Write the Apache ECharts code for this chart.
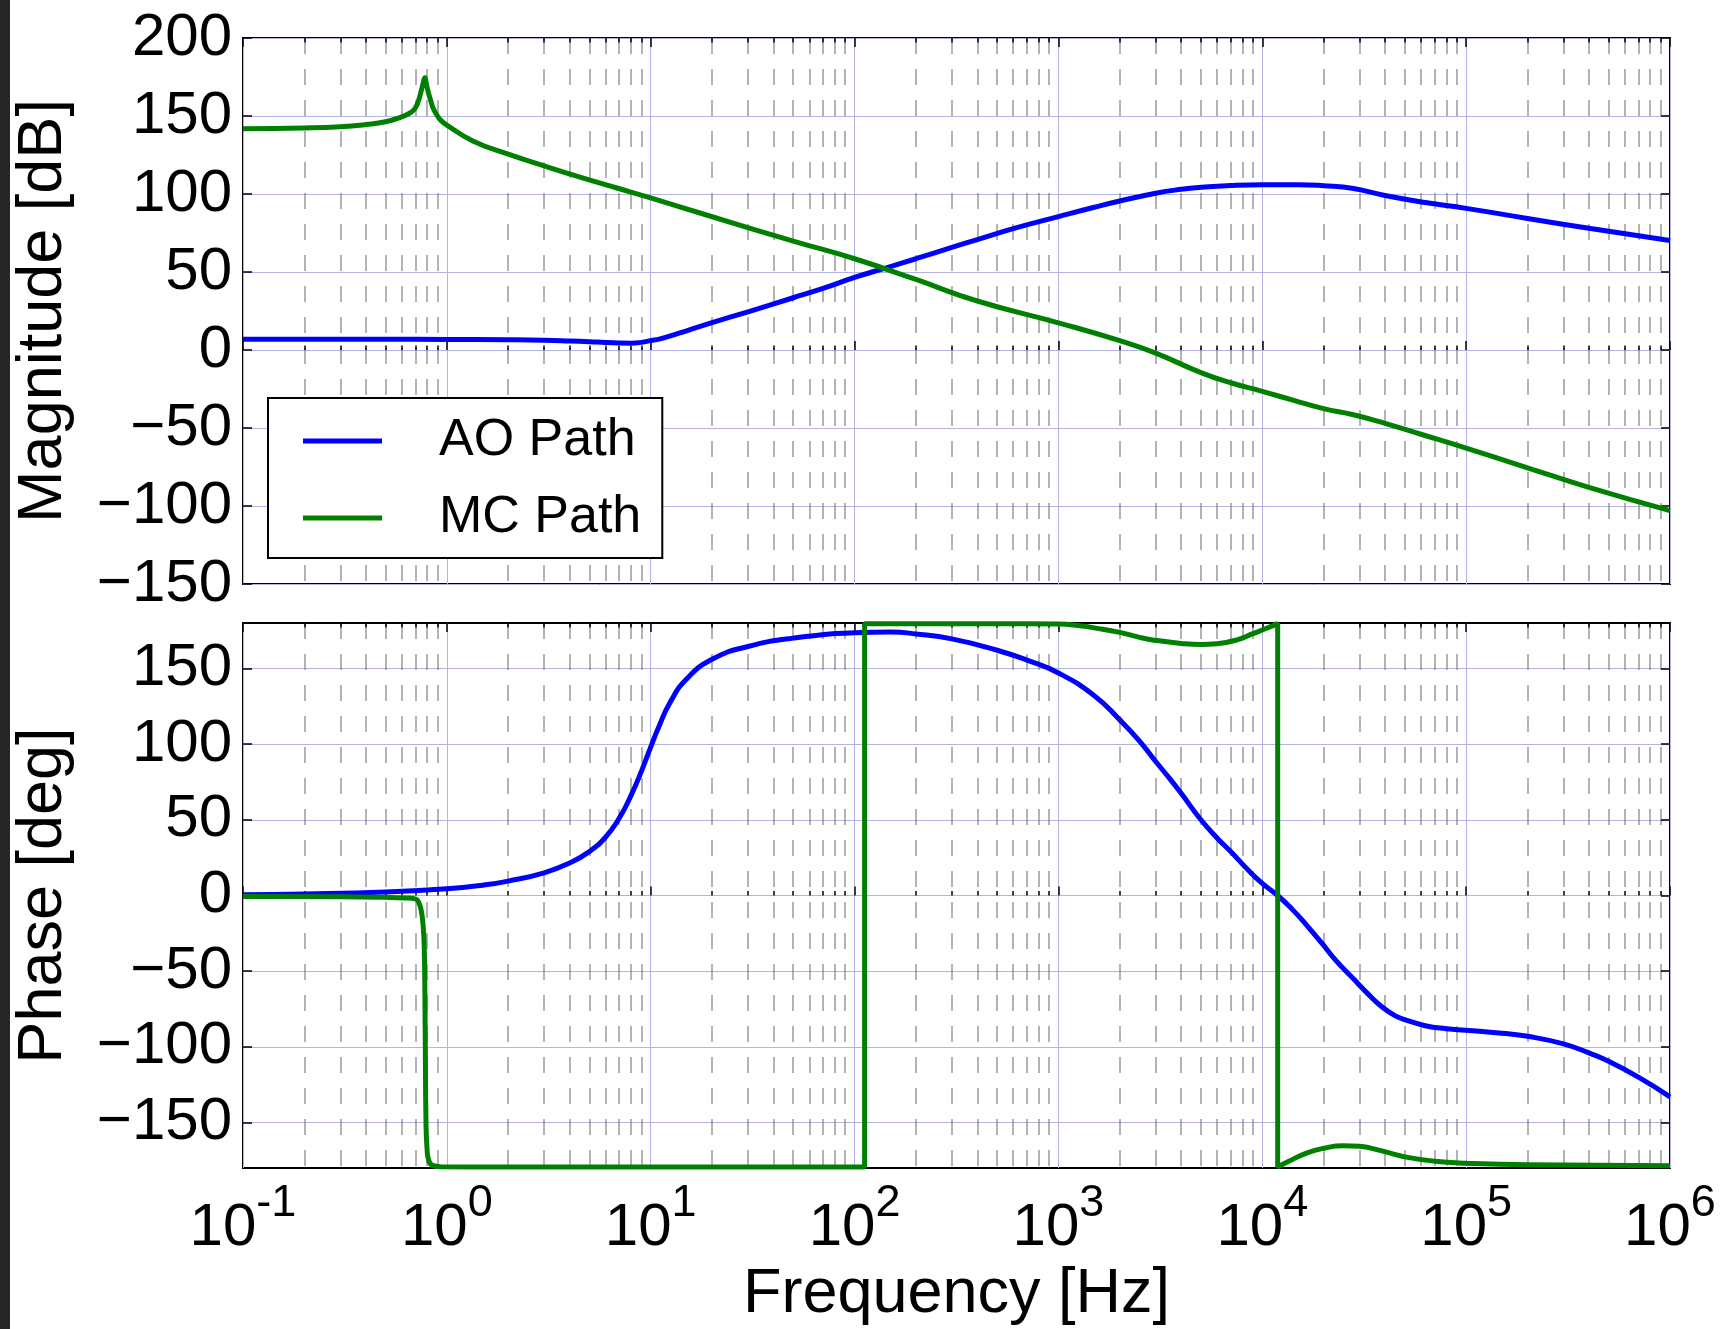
<!DOCTYPE html>
<html>
<head>
<meta charset="utf-8">
<script src="https://cdn.jsdelivr.net/npm/echarts@6/dist/echarts.min.js"></script>
<style>
  html, body { margin: 0; padding: 0; background: #fff; }
  #bode { width: 1729px; height: 1329px; }
</style>
</head>
<body>
<div id="bode"></div>
<script>
  // ---- data: [frequency Hz, value] ----
  var aoMagnitude = [
    [0.1, 6.9], [0.2, 6.9], [0.5, 6.9], [1, 6.8], [2, 6.6], [3, 6.3], [4, 5.8], [5, 5.3],
    [6, 4.8], [7, 4.5], [8, 4.4], [9, 4.9], [10, 6], [11, 7], [12.5, 9], [15, 12.3],
    [20, 17.5], [30, 24.5], [50, 33.5], [70, 39.5], [100, 46.5], [150, 53.5], [200, 58.5],
    [300, 65.8], [400, 70.8], [600, 77.8], [1000, 85.5], [1500, 91.5], [2000, 95.5],
    [3000, 100.5], [4000, 103], [5000, 104.3], [7000, 105.5], [10000, 106], [15000, 106],
    [20000, 105.3], [28000, 103.5], [40000, 99], [63000, 94.5], [100000, 90.8],
    [200000, 84.3], [400000, 78], [1000000, 70.2]
  ];
  var mcMagnitude = [
    [0.1, 141.8], [0.2, 142.3], [0.3, 143.1], [0.4, 144.5], [0.5, 146.3], [0.6, 149.4],
    [0.65, 151.5], [0.69, 154], [0.72, 158.5], [0.75, 166.5], [0.765, 171], [0.78, 174.5],
    [0.795, 170], [0.81, 165.5], [0.835, 159.5], [0.86, 154.5], [0.9, 150], [0.935, 147.2],
    [1, 144.2], [1.34, 134], [2, 125.5], [3, 118], [4.5, 110.8], [6.76, 104], [10, 97.5],
    [18.6, 86.7], [50, 69.8], [100, 58.5], [200, 45.2], [400, 31.4], [1000, 17.4],
    [2000, 6], [3000, -2], [5000, -14.5], [7000, -21], [10000, -26.5], [14000, -32],
    [20000, -37.6], [28000, -41.5], [40000, -47], [60000, -54], [100000, -62.9],
    [200000, -75.5], [400000, -88.1], [1000000, -103]
  ];
  var aoPhase = [
    [0.1, 0.5], [0.2, 1], [0.5, 2.3], [1, 4.4], [1.5, 6.8], [2, 9.5], [3, 15], [4, 21.5],
    [5, 29], [6, 38.5], [7, 51], [8, 66], [9, 82], [10, 98], [11, 112], [12.5, 128],
    [15, 143], [20, 156], [30, 164.5], [50, 170], [100, 173.5], [150, 174], [200, 172.8],
    [300, 169.5], [500, 162], [700, 155.5], [1000, 147], [1500, 132], [2000, 116],
    [2500, 102], [3000, 88.5], [3500, 77.5], [4000, 67.5], [5000, 50], [6000, 38], [7000, 29],
    [8500, 17], [10000, 8], [11900, 0], [14000, -9], [16600, -20], [19600, -31.5],
    [23000, -43], [28000, -55], [33000, -65], [39000, -74], [45000, -79.5], [50000, -82],
    [63000, -86], [80000, -88], [100000, -89], [150000, -91], [200000, -93], [300000, -98],
    [400000, -104], [500000, -109.5], [700000, -120], [1000000, -133]
  ];
  var mcPhase = [
    [0.1, -0.6], [0.3, -0.8], [0.5, -1.2], [0.62, -1.6], [0.7, -2.2], [0.73, -5],
    [0.75, -10.5], [0.765, -20], [0.775, -35], [0.783, -90], [0.79, -150], [0.8, -168],
    [0.815, -175], [0.85, -178.3], [0.93, -179.2], [2, -179.4], [112, -179.4],
    [112, 179.5], [500, 179.5], [1000, 179.3], [1300, 178], [1500, 176.8], [2000, 173.8],
    [2500, 170.5], [3000, 168.5], [4000, 166.5], [5000, 165.8], [6000, 166.3],
    [7500, 168.8], [9000, 173], [10500, 176.5], [11900, 179.6], [11900, -179.4],
    [13500, -175.5], [16600, -170], [20000, -167], [24900, -165.3], [30000, -165.6],
    [34400, -167], [42000, -170], [51600, -173], [70000, -175.5], [100000, -176.8],
    [200000, -177.9], [1000000, -178.5]
  ];

  // ---- axes ----
  var decadeTicks = [0.1, 1, 10, 100, 1000, 10000, 100000, 1000000];
  var minorTicks = [];
  decadeTicks.slice(0, -1).forEach(function (d) {
    for (var m = 2; m <= 9; m++) minorTicks.push(+(d * m).toPrecision(3));
  });
  var magTicks = [-150, -100, -50, 0, 50, 100, 150, 200];
  var phaseTicks = [-150, -100, -50, 0, 50, 100, 150];

  var FONT = '"Liberation Sans", Arial, Helvetica, sans-serif';
  var BLUE = '#0000ff';
  var GREEN = '#008000';
  var GRID_COLOR = '#b4b4e4';

  var minusFmt = function (v) { return v < 0 ? '\u2212' + (-v) : String(v); };
  var powFmt = function (v) {
    var e = Math.round(Math.log10(v));
    return '{b|10}{s|' + e + '}';
  };

  var tickStyle = { color: '#000', width: 1.5 };

  // one log frequency axis (several are stacked per grid for ticks / grid lines)
  const freqAxis = (gi, pos, ticks, len, extra) => {
    var ax = {
      type: 'log', logBase: 10, gridIndex: gi, position: pos,
      min: 0.1, max: 1000000,
      axisLine: { show: false },
      axisTick: { show: true, inside: true, length: len, customValues: ticks, lineStyle: tickStyle },
      axisLabel: { show: false },
      splitLine: { show: false }
    };
    return Object.assign(ax, extra || {});
  };

  var majorSplit = { show: true, lineStyle: { color: GRID_COLOR, width: 1 } };
  var minorSplit = { show: true, lineStyle: { color: 'rgba(110,110,110,0.7)', width: 1.5, type: [16, 15] } };

  var xAxes = [];
  [0, 1].forEach(function (gi) {
    var main = freqAxis(gi, 'bottom', decadeTicks, 9, { splitLine: majorSplit });
    if (gi == 1) {
      main.axisLabel = {
        show: true, customValues: decadeTicks, formatter: powFmt, margin: 30,
        rich: {
          b: { fontSize: 60, fontFamily: FONT, color: '#000', lineHeight: 60, verticalAlign: 'bottom' },
          s: { fontSize: 45, fontFamily: FONT, color: '#000', lineHeight: 45, padding: [0, 0, 32, 0], verticalAlign: 'bottom' }
        }
      };
      main.name = 'Frequency [Hz]';
      main.nameLocation = 'middle';
      main.nameGap = 95;
      main.nameTextStyle = { fontSize: 63, fontFamily: FONT, color: '#000' };
    }
    xAxes.push(main);
    xAxes.push(freqAxis(gi, 'bottom', minorTicks, 4.5, { splitLine: minorSplit }));
    xAxes.push(freqAxis(gi, 'top', decadeTicks, 9));
    xAxes.push(freqAxis(gi, 'top', minorTicks, 4.5));
  });

  var yLabel = { show: true, fontSize: 60, fontFamily: FONT, color: '#000', margin: 11, formatter: minusFmt };
  var yName = { fontSize: 63, fontFamily: FONT, color: '#000' };

  var yAxes = [
    {
      type: 'value', gridIndex: 0, position: 'left', min: -150, max: 200, interval: 50,
      axisLine: { show: false },
      axisTick: { show: true, inside: true, length: 9, lineStyle: tickStyle },
      axisLabel: yLabel, splitLine: majorSplit,
      name: 'Magnitude [dB]', nameLocation: 'middle', nameGap: 168, nameTextStyle: yName
    },
    {
      type: 'value', gridIndex: 0, position: 'right', min: -150, max: 200, interval: 50,
      axisLine: { show: false },
      axisTick: { show: true, inside: true, length: 9, lineStyle: tickStyle },
      axisLabel: { show: false }, splitLine: { show: false }
    },
    {
      type: 'value', gridIndex: 1, position: 'left', min: -180, max: 180,
      axisLine: { show: false },
      axisTick: { show: true, inside: true, length: 9, customValues: phaseTicks, lineStyle: tickStyle },
      axisLabel: Object.assign({ customValues: phaseTicks }, yLabel), splitLine: majorSplit,
      name: 'Phase [deg]', nameLocation: 'middle', nameGap: 168, nameTextStyle: yName
    },
    {
      type: 'value', gridIndex: 1, position: 'right', min: -180, max: 180,
      axisLine: { show: false },
      axisTick: { show: true, inside: true, length: 9, customValues: phaseTicks, lineStyle: tickStyle },
      axisLabel: { show: false }, splitLine: { show: false }
    }
  ];

  const curve = (name, data, color, xi, yi) => ({
    name: name, type: 'line', data: data, xAxisIndex: xi, yAxisIndex: yi,
    showSymbol: false, symbol: 'none', smooth: 0.5, clip: true, z: 3,
    lineStyle: { color: color, width: 5 }, itemStyle: { color: color }
  });

  var chart = echarts.init(document.getElementById('bode'), null, { renderer: 'canvas' });
  var option = {
    animation: false,
    backgroundColor: '#fff',
    grid: [
      { left: 243, right: 59, top: 38, height: 546, show: true, borderColor: '#000', borderWidth: 2 },
      { left: 243, right: 59, top: 623, height: 545, show: true, borderColor: '#000', borderWidth: 2 }
    ],
    xAxis: xAxes,
    yAxis: yAxes,
    legend: {
      data: ['AO Path', 'MC Path'],
      orient: 'vertical', left: 268, top: 398,
      icon: 'rect', itemWidth: 79, itemHeight: 5, itemGap: 17,
      padding: [13, 21, 10, 35],
      backgroundColor: '#fff', borderColor: '#000', borderWidth: 2,
      selectedMode: false,
      textStyle: { fontSize: 52, fontFamily: FONT, color: '#000', lineHeight: 60, padding: [0, 0, 0, 52] }
    },
    graphic: [
      { type: 'rect', shape: { x: 0, y: 0, width: 10, height: 1329 }, style: { fill: '#262626' }, z: 100 }
    ],
    series: [
      curve('AO Path', aoMagnitude, BLUE, 0, 0),
      curve('MC Path', mcMagnitude, GREEN, 0, 0),
      curve('AO Path', aoPhase, BLUE, 4, 2),
      curve('MC Path', mcPhase, GREEN, 4, 2)
    ]
  };

  option && chart.setOption(option);
</script>
</body>
</html>
